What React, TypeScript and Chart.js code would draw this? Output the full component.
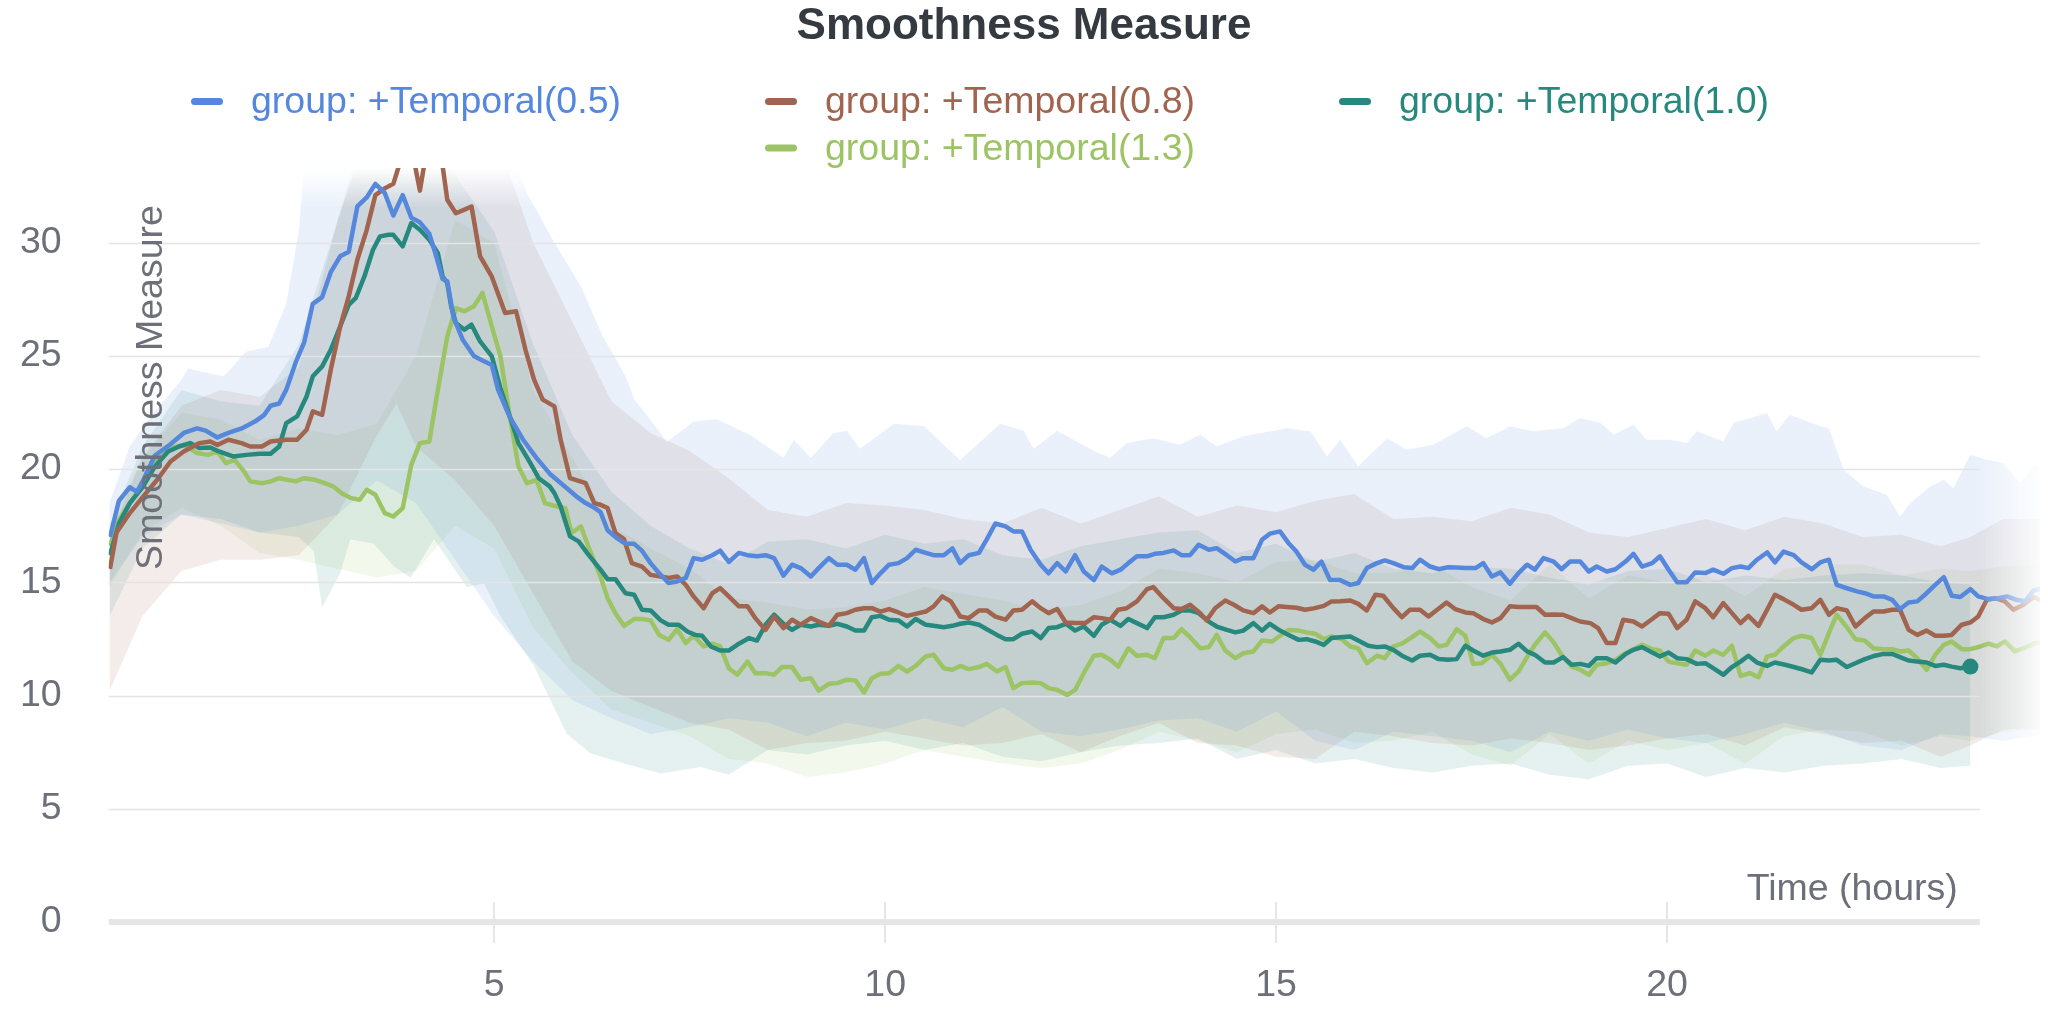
import React, { useEffect, useRef } from "react";
import { Chart, registerables } from "chart.js";

Chart.register(...registerables);

const TITLE = "Smoothness Measure";
const X_TITLE = "Time (hours)";
const Y_TITLE = "Smoothness Measure";
const SERIES_NAMES = ["group: +Temporal(0.5)", "group: +Temporal(0.8)", "group: +Temporal(1.0)", "group: +Temporal(1.3)"];
const SERIES_COLORS = ["#5588dd", "#a0644f", "#27897e", "#9cc464"];
const SERIES_RGB = ["85,136,221", "160,100,79", "39,137,126", "156,196,100"];
const X_MIN = 0.07;
const X_MAX = 24.77;
const AXIS_END = 24;
const Y_MAX = 33.3;
const X_TICK_STEP = 5;
const Y_TICK_STEP = 5;

type P = [number, number];

const BLUE_MEAN: P[] = [[0.086,17.0],[0.2,18.6],[0.34,19.2],[0.43,19.0],[0.51,19.5],[0.66,20.6],[0.86,21.1],[1.03,21.6],[1.2,21.8],[1.31,21.7],[1.46,21.4],[1.6,21.6],[1.77,21.8],[1.94,22.1],[2.06,22.4],[2.14,22.8],[2.25,22.9],[2.34,23.5],[2.46,24.7],[2.57,25.6],[2.68,27.3],[2.8,27.6],[2.91,28.7],[3.03,29.4],[3.14,29.6],[3.25,31.6],[3.37,32.0],[3.48,32.6],[3.6,32.2],[3.71,31.2],[3.83,32.1],[3.94,31.1],[4.05,30.9],[4.17,30.4],[4.25,29.5],[4.34,28.4],[4.4,28.3],[4.48,26.7],[4.6,25.7],[4.74,25.0],[4.85,24.8],[4.97,24.6],[5.05,23.5],[5.2,22.3],[5.37,21.3],[5.54,20.5],[5.71,19.8],[5.88,19.3],[6.05,18.8],[6.17,18.5],[6.28,18.3],[6.36,18.1],[6.45,17.3],[6.57,16.95],[6.68,16.7],[6.79,16.7],[6.89,16.4],[7.0,15.85],[7.11,15.4],[7.23,14.97],[7.34,15.04],[7.45,15.2],[7.55,16.07],[7.66,16.0],[7.79,16.2],[7.89,16.4],[8.0,15.9],[8.13,16.3],[8.24,16.2],[8.36,16.15],[8.47,16.2],[8.58,16.07],[8.7,15.3],[8.81,15.78],[8.92,15.63],[9.05,15.26],[9.15,15.63],[9.28,16.07],[9.39,15.78],[9.51,15.78],[9.62,15.56],[9.73,16.07],[9.83,14.97],[9.94,15.4],[10.05,15.78],[10.17,15.85],[10.28,16.07],[10.39,16.44],[10.52,16.3],[10.62,16.2],[10.75,16.2],[10.86,16.5],[10.96,15.85],[11.07,16.2],[11.2,16.3],[11.3,16.9],[11.41,17.6],[11.54,17.47],[11.64,17.25],[11.75,17.25],[11.86,16.44],[11.99,15.78],[12.09,15.4],[12.2,15.85],[12.31,15.48],[12.43,16.2],[12.54,15.48],[12.67,15.1],[12.77,15.7],[12.9,15.4],[13.01,15.56],[13.11,15.85],[13.22,16.15],[13.35,16.15],[13.45,16.26],[13.56,16.3],[13.69,16.41],[13.79,16.2],[13.9,16.2],[14.01,16.66],[14.14,16.44],[14.24,16.51],[14.37,16.2],[14.48,15.92],[14.58,16.07],[14.71,16.07],[14.82,16.88],[14.92,17.15],[15.05,17.25],[15.16,16.73],[15.26,16.36],[15.37,15.78],[15.48,15.56],[15.58,15.92],[15.69,15.1],[15.82,15.1],[15.95,14.89],[16.05,14.97],[16.16,15.63],[16.29,15.85],[16.39,15.97],[16.5,15.85],[16.63,15.67],[16.74,15.63],[16.84,16.0],[16.97,15.7],[17.08,15.58],[17.2,15.67],[17.31,15.66],[17.42,15.63],[17.55,15.63],[17.65,15.85],[17.76,15.26],[17.87,15.44],[17.99,14.94],[18.1,15.41],[18.21,15.78],[18.31,15.56],[18.42,16.07],[18.55,15.92],[18.65,15.58],[18.76,15.92],[18.89,15.92],[19.0,15.48],[19.1,15.7],[19.23,15.48],[19.34,15.58],[19.47,15.92],[19.57,16.26],[19.68,15.7],[19.81,15.85],[19.91,16.15],[20.02,15.56],[20.13,15.0],[20.25,15.0],[20.36,15.44],[20.49,15.41],[20.59,15.56],[20.72,15.38],[20.83,15.63],[20.94,15.7],[21.04,15.63],[21.15,16.0],[21.28,16.32],[21.38,15.88],[21.49,16.36],[21.62,16.2],[21.72,15.88],[21.85,15.58],[21.96,15.88],[22.07,16.0],[22.17,14.89],[22.3,14.74],[22.43,14.6],[22.53,14.52],[22.64,14.38],[22.77,14.38],[22.88,14.23],[22.98,13.82],[23.09,14.11],[23.2,14.16],[23.32,14.52],[23.43,14.89],[23.54,15.23],[23.64,14.41],[23.75,14.35],[23.88,14.7],[23.98,14.38],[24.11,14.26],[24.24,14.3],[24.35,14.38],[24.47,14.23],[24.58,14.16],[24.69,14.64],[24.81,14.74]];

const BROWN_MEAN: P[] = [[0.086,15.6],[0.17,17.2],[0.34,18.06],[0.51,18.79],[0.69,19.53],[0.86,20.34],[1.03,20.78],[1.23,21.15],[1.37,21.22],[1.46,21.07],[1.6,21.3],[1.77,21.15],[1.88,21.0],[2.03,21.0],[2.14,21.22],[2.34,21.3],[2.48,21.3],[2.6,21.74],[2.68,22.55],[2.8,22.4],[2.91,24.39],[3.03,26.3],[3.14,27.63],[3.25,29.25],[3.37,30.57],[3.48,32.1],[3.6,32.4],[3.71,32.6],[3.8,33.6],[3.92,34.6],[4.05,32.3],[4.17,34.8],[4.28,34.2],[4.34,33.4],[4.4,31.9],[4.51,31.3],[4.62,31.46],[4.71,31.6],[4.82,29.4],[4.97,28.5],[5.14,26.9],[5.28,26.97],[5.4,25.27],[5.51,23.95],[5.62,23.07],[5.77,22.77],[5.85,21.3],[5.97,19.6],[6.17,19.38],[6.28,18.5],[6.36,18.43],[6.45,18.28],[6.55,17.18],[6.66,16.91],[6.76,15.85],[6.89,15.7],[7.0,15.33],[7.13,15.26],[7.23,15.19],[7.34,15.26],[7.45,14.89],[7.55,14.38],[7.68,13.86],[7.79,14.52],[7.89,14.75],[8.0,14.38],[8.13,13.94],[8.24,13.94],[8.34,13.42],[8.47,12.9],[8.58,13.49],[8.7,12.98],[8.81,13.35],[8.92,13.13],[9.05,13.42],[9.15,13.27],[9.28,13.08],[9.39,13.57],[9.51,13.64],[9.62,13.79],[9.73,13.86],[9.83,13.86],[9.94,13.71],[10.05,13.82],[10.17,13.67],[10.28,13.52],[10.39,13.61],[10.52,13.71],[10.62,13.94],[10.73,14.38],[10.84,14.16],[10.96,13.49],[11.07,13.42],[11.2,13.76],[11.3,13.76],[11.41,13.49],[11.54,13.35],[11.64,13.76],[11.75,13.79],[11.88,14.16],[11.99,13.86],[12.09,13.64],[12.2,13.82],[12.31,13.23],[12.43,13.2],[12.56,13.2],[12.67,13.46],[12.77,13.42],[12.88,13.35],[12.98,13.79],[13.09,13.86],[13.22,14.16],[13.35,14.7],[13.43,14.79],[13.56,14.3],[13.69,13.86],[13.79,13.82],[13.9,14.01],[14.03,13.64],[14.11,13.32],[14.22,13.86],[14.35,14.2],[14.46,14.01],[14.58,13.76],[14.71,13.64],[14.82,13.94],[14.92,13.67],[15.03,13.94],[15.14,13.91],[15.26,13.88],[15.37,13.79],[15.48,13.85],[15.61,13.96],[15.71,14.16],[15.82,14.17],[15.95,14.2],[16.05,14.05],[16.16,13.76],[16.27,14.45],[16.37,14.41],[16.5,13.86],[16.61,13.46],[16.71,13.79],[16.84,13.79],[16.95,13.49],[17.06,13.79],[17.18,14.11],[17.29,13.82],[17.42,13.67],[17.52,13.64],[17.65,13.38],[17.76,13.23],[17.87,13.42],[17.99,13.94],[18.1,13.91],[18.21,13.91],[18.33,13.91],[18.44,13.57],[18.55,13.58],[18.67,13.57],[18.78,13.42],[18.89,13.27],[19.02,13.2],[19.12,12.98],[19.23,12.32],[19.34,12.32],[19.44,13.35],[19.57,13.27],[19.68,13.05],[19.81,13.38],[19.91,13.64],[20.02,13.61],[20.13,12.98],[20.25,13.35],[20.36,14.16],[20.49,13.86],[20.59,13.46],[20.72,14.08],[20.83,13.64],[20.94,13.2],[21.04,13.52],[21.17,13.08],[21.28,13.79],[21.38,14.45],[21.49,14.26],[21.62,14.01],[21.72,13.79],[21.85,13.86],[21.96,14.23],[22.07,13.57],[22.17,13.86],[22.3,13.76],[22.41,13.05],[22.53,13.42],[22.64,13.71],[22.77,13.71],[22.88,13.79],[22.98,13.79],[23.09,12.9],[23.2,12.68],[23.32,12.87],[23.43,12.64],[23.54,12.64],[23.64,12.68],[23.77,13.13],[23.88,13.23],[23.98,13.49],[24.09,14.23],[24.2,14.3],[24.32,14.16],[24.43,13.79],[24.56,14.01],[24.69,14.35],[24.81,14.16]];

const TEAL_MEAN: P[] = [[0.086,16.2],[0.2,17.6],[0.34,18.5],[0.51,19.24],[0.66,20.12],[0.83,20.78],[0.97,21.0],[1.11,21.15],[1.23,20.93],[1.37,20.96],[1.48,20.78],[1.66,20.56],[1.83,20.63],[2.0,20.68],[2.14,20.68],[2.25,21.0],[2.34,22.03],[2.48,22.33],[2.6,23.21],[2.68,24.1],[2.8,24.54],[2.91,25.27],[3.03,26.3],[3.14,27.26],[3.23,27.56],[3.34,28.51],[3.45,29.69],[3.54,30.28],[3.65,30.35],[3.71,30.35],[3.83,29.84],[3.94,30.87],[4.05,30.57],[4.17,30.13],[4.28,29.54],[4.34,28.51],[4.4,28.22],[4.45,27.19],[4.51,26.45],[4.62,26.16],[4.71,26.38],[4.82,25.64],[4.97,24.98],[5.08,23.58],[5.2,22.33],[5.31,21.15],[5.45,20.34],[5.57,19.6],[5.71,19.24],[5.77,18.94],[5.85,18.35],[5.97,17.03],[6.08,16.81],[6.19,16.29],[6.31,15.77],[6.36,15.56],[6.45,15.14],[6.55,15.14],[6.68,14.52],[6.79,14.45],[6.89,13.79],[7.0,13.76],[7.13,13.32],[7.23,13.13],[7.36,13.13],[7.47,12.83],[7.57,12.68],[7.66,12.64],[7.77,12.17],[7.89,11.99],[8.0,11.99],[8.13,12.29],[8.26,12.54],[8.36,12.43],[8.47,13.13],[8.58,13.57],[8.7,13.17],[8.81,12.9],[8.92,13.13],[9.05,13.05],[9.15,13.13],[9.28,13.08],[9.39,13.17],[9.51,13.05],[9.62,12.87],[9.73,12.87],[9.83,13.46],[9.94,13.52],[10.05,13.35],[10.17,13.32],[10.28,13.05],[10.39,13.38],[10.52,13.13],[10.62,13.08],[10.75,13.02],[10.86,13.08],[10.96,13.17],[11.07,13.23],[11.2,13.13],[11.3,12.93],[11.43,12.68],[11.54,12.49],[11.64,12.49],[11.75,12.73],[11.88,12.83],[11.99,12.54],[12.09,12.98],[12.2,13.02],[12.31,13.17],[12.43,12.87],[12.54,13.05],[12.67,12.64],[12.77,13.13],[12.88,13.35],[13.01,13.08],[13.11,13.38],[13.22,13.2],[13.35,12.98],[13.45,13.46],[13.56,13.46],[13.69,13.57],[13.79,13.76],[13.9,13.76],[14.01,13.64],[14.14,13.27],[14.24,13.05],[14.37,12.9],[14.48,12.79],[14.58,12.87],[14.71,13.2],[14.82,12.87],[14.92,13.17],[15.05,12.87],[15.16,12.68],[15.29,12.46],[15.39,12.49],[15.5,12.39],[15.61,12.24],[15.71,12.54],[15.82,12.58],[15.95,12.61],[16.05,12.43],[16.18,12.2],[16.29,12.14],[16.39,12.17],[16.5,12.02],[16.61,11.76],[16.74,11.55],[16.84,11.76],[16.97,11.8],[17.08,11.61],[17.2,11.58],[17.31,11.61],[17.42,12.2],[17.52,11.99],[17.65,11.76],[17.76,11.9],[17.87,11.95],[17.99,12.02],[18.1,12.29],[18.21,11.95],[18.31,11.8],[18.44,11.46],[18.55,11.46],[18.67,11.7],[18.78,11.36],[18.89,11.4],[19.0,11.31],[19.1,11.65],[19.23,11.65],[19.34,11.46],[19.47,11.84],[19.57,12.02],[19.68,12.14],[19.81,11.9],[19.91,11.73],[20.02,11.9],[20.13,11.65],[20.25,11.61],[20.38,11.4],[20.49,11.43],[20.59,11.21],[20.72,10.92],[20.83,11.26],[20.94,11.5],[21.04,11.76],[21.15,11.46],[21.28,11.31],[21.38,11.46],[21.51,11.36],[21.62,11.26],[21.75,11.14],[21.85,11.02],[21.96,11.58],[22.07,11.55],[22.17,11.58],[22.3,11.26],[22.43,11.46],[22.53,11.61],[22.66,11.76],[22.77,11.84],[22.88,11.84],[22.98,11.7],[23.09,11.55],[23.2,11.5],[23.32,11.46],[23.43,11.31],[23.54,11.36],[23.64,11.28],[23.75,11.21],[23.88,11.28]];

const GREEN_MEAN: P[] = [[0.086,16.6],[0.2,17.76],[0.34,18.5],[0.51,19.31],[0.66,20.27],[0.86,20.93],[1.03,21.07],[1.2,20.71],[1.34,20.63],[1.46,20.78],[1.57,20.27],[1.68,20.41],[1.8,19.9],[1.88,19.46],[2.03,19.38],[2.14,19.46],[2.25,19.6],[2.46,19.46],[2.57,19.6],[2.71,19.53],[2.83,19.38],[2.94,19.24],[3.05,18.94],[3.17,18.72],[3.28,18.65],[3.37,19.09],[3.48,18.87],[3.6,18.06],[3.71,17.91],[3.83,18.28],[3.94,20.19],[4.05,21.15],[4.17,21.22],[4.28,23.51],[4.4,25.86],[4.51,27.11],[4.62,26.97],[4.74,27.19],[4.85,27.78],[4.97,26.3],[5.08,24.98],[5.2,22.33],[5.31,20.12],[5.42,19.38],[5.54,19.53],[5.65,18.5],[5.8,18.35],[5.91,18.28],[5.99,17.18],[6.11,17.47],[6.22,16.44],[6.36,15.26],[6.45,14.3],[6.55,13.64],[6.66,13.08],[6.79,13.38],[6.89,13.38],[7.0,13.32],[7.11,12.68],[7.23,12.46],[7.34,12.93],[7.45,12.32],[7.55,12.64],[7.68,12.17],[7.79,12.29],[7.89,12.17],[8.0,11.21],[8.11,10.92],[8.24,11.5],[8.34,10.99],[8.47,10.99],[8.58,10.92],[8.68,11.26],[8.81,11.26],[8.92,10.7],[9.05,10.77],[9.15,10.22],[9.28,10.52],[9.39,10.55],[9.51,10.7],[9.62,10.67],[9.73,10.14],[9.83,10.77],[9.94,10.96],[10.05,10.99],[10.17,11.31],[10.28,11.06],[10.39,11.31],[10.52,11.73],[10.62,11.8],[10.75,11.21],[10.86,11.14],[10.96,11.31],[11.07,11.17],[11.2,11.26],[11.3,11.4],[11.43,11.06],[11.54,11.26],[11.64,10.33],[11.75,10.55],[11.88,10.58],[11.99,10.55],[12.09,10.33],[12.2,10.25],[12.33,10.03],[12.43,10.25],[12.54,10.99],[12.67,11.76],[12.77,11.8],[12.88,11.58],[12.98,11.28],[13.11,12.09],[13.22,11.76],[13.35,11.8],[13.45,11.65],[13.56,12.54],[13.69,12.54],[13.79,12.93],[13.9,12.58],[14.03,12.09],[14.14,12.14],[14.24,12.68],[14.35,11.99],[14.48,11.65],[14.58,11.87],[14.71,11.95],[14.82,12.43],[14.95,12.39],[15.05,12.64],[15.16,12.9],[15.29,12.87],[15.39,12.79],[15.5,12.73],[15.61,12.49],[15.71,12.61],[15.84,12.49],[15.95,12.17],[16.05,12.09],[16.16,11.43],[16.29,11.76],[16.39,11.65],[16.5,12.17],[16.61,12.29],[16.74,12.58],[16.84,12.83],[16.97,12.54],[17.08,12.17],[17.18,12.24],[17.31,12.93],[17.42,12.64],[17.52,11.4],[17.63,11.43],[17.76,11.8],[17.87,11.4],[17.99,10.7],[18.1,11.06],[18.21,11.7],[18.31,12.24],[18.44,12.79],[18.55,12.35],[18.65,11.8],[18.78,11.28],[18.89,11.14],[19.0,10.92],[19.1,11.36],[19.23,11.43],[19.34,11.58],[19.47,11.87],[19.57,12.05],[19.68,12.24],[19.81,12.05],[19.91,11.99],[20.02,11.5],[20.13,11.43],[20.25,11.36],[20.36,11.99],[20.49,11.76],[20.59,11.99],[20.72,11.8],[20.83,12.2],[20.94,10.87],[21.06,10.99],[21.17,10.81],[21.28,11.73],[21.38,11.8],[21.49,12.17],[21.62,12.54],[21.72,12.64],[21.85,12.54],[21.96,11.8],[22.07,12.76],[22.17,13.57],[22.3,13.02],[22.41,12.49],[22.53,12.43],[22.64,12.09],[22.77,12.05],[22.88,12.05],[22.98,11.95],[23.09,11.99],[23.2,11.65],[23.32,11.14],[23.43,11.8],[23.54,12.24],[23.64,12.39],[23.77,12.05],[23.88,12.05],[23.98,12.14],[24.11,12.29],[24.22,12.17],[24.32,12.39],[24.45,11.95],[24.56,12.09],[24.69,12.29],[24.81,12.39]];

const BLUE_UPPER: P[] = [[0.08,18.5],[0.34,21.0],[0.6,22.3],[0.97,23.8],[1.09,24.46],[1.26,24.3],[1.54,24.1],[1.83,25.2],[2.11,25.4],[2.34,27.3],[2.5,30.5],[2.6,34.5],[3,36],[3.5,38],[4,39],[4.5,38],[5,36],[5.42,32.2],[5.77,30.0],[6.11,28.07],[6.39,25.86],[6.68,24.1],[6.79,23.1],[6.97,22.3],[7.21,21.2],[7.55,22.1],[7.85,22.2],[8.28,21.5],[8.7,20.5],[8.83,21.3],[9.05,20.5],[9.34,21.6],[9.51,21.7],[9.68,20.9],[10.11,22.0],[10.5,21.9],[10.71,21.2],[10.96,20.4],[11.47,22.0],[11.77,21.7],[11.9,20.9],[12.2,21.7],[12.67,20.8],[12.88,20.5],[13.09,21.15],[13.43,21.37],[13.77,21.08],[14.03,21.52],[14.24,21.0],[14.58,21.45],[15.14,21.81],[15.44,21.67],[15.65,20.56],[15.82,21.3],[16.05,20.12],[16.42,21.37],[16.67,20.86],[17.01,21.08],[17.44,21.89],[17.69,21.37],[17.99,21.89],[18.29,21.67],[18.67,21.81],[18.89,22.26],[19.15,22.04],[19.32,21.52],[19.57,21.96],[19.74,21.3],[20.04,21.3],[20.25,21.15],[20.38,21.67],[20.72,21.23],[20.85,22.04],[21.28,22.48],[21.4,21.67],[21.57,22.4],[21.96,21.89],[22.07,21.81],[22.26,19.97],[22.51,19.24],[22.81,18.87],[22.98,17.91],[23.11,18.5],[23.37,19.24],[23.54,19.53],[23.66,19.16],[23.88,20.64],[24.09,20.42],[24.3,20.27],[24.52,19.38],[24.69,20.12],[24.86,19.97]];
const BLUE_LOWER: P[] = [[0.08,15.0],[0.5,17.0],[1,18.0],[1.5,17.6],[2,17.2],[2.5,17.5],[3,18.0],[3.5,19.5],[4,18.5],[4.5,16.0],[5,13.5],[5.5,11.5],[6,9.8],[6.5,9.0],[7,8.3],[7.5,8.6],[8,9.0],[8.5,8.8],[9,8.2],[9.5,8.8],[10,8.5],[10.5,9.0],[11,8.6],[11.5,9.5],[12,8.4],[12.5,8.2],[13,8.5],[13.5,8.9],[14,9.0],[14.5,8.4],[15,9.3],[15.5,8.0],[16,7.6],[16.5,8.4],[17,8.2],[17.5,8.0],[18,7.5],[18.5,8.4],[19,8.0],[19.5,8.5],[20,8.1],[20.5,7.9],[21,8.3],[21.5,8.8],[22,8.4],[22.5,7.8],[23,7.6],[23.5,8.3],[23.88,8.2],[24.3,8.0],[24.86,8.3]];
const BROWN_UPPER: P[] = [[0.08,17.0],[0.5,20.5],[1,22.8],[1.5,23.5],[2,23.2],[2.5,24.5],[3,31],[3.5,37],[4,40],[4.5,38],[5,35],[5.5,30],[6,26.5],[6.5,23.0],[7,21.6],[7.5,20.8],[8,19.6],[8.5,18.2],[9,17.9],[9.5,18.5],[10,18.4],[10.5,18.2],[11,17.8],[11.5,17.6],[12,18.3],[12.5,17.6],[13,18.2],[13.5,18.8],[14,17.9],[14.5,18.4],[15,18.1],[15.5,18.6],[16,18.9],[16.5,17.8],[17,17.9],[17.5,17.7],[18,18.3],[18.5,18.0],[19,17.2],[19.5,17.0],[20,17.4],[20.5,17.8],[21,17.3],[21.5,17.9],[22,17.6],[22.5,17.0],[23,17.1],[23.5,16.6],[23.88,17.0],[24.3,17.8],[24.86,17.8]];
const BROWN_LOWER: P[] = [[0.08,10.2],[0.5,13.5],[1,15.5],[1.5,16.0],[2,16.0],[2.5,16.2],[3,18.0],[3.5,21.5],[3.75,22.9],[4,21.0],[4.5,19.5],[5,17.5],[5.5,14.5],[6,11.5],[6.5,10.2],[7,9.5],[7.5,8.8],[8,8.5],[8.5,7.6],[9,7.9],[9.5,8.0],[10,8.4],[10.5,8.1],[11,7.8],[11.5,7.9],[12,8.3],[12.5,7.5],[13,8.2],[13.5,8.8],[14,7.9],[14.5,7.8],[15,7.3],[15.5,7.2],[16,8.4],[16.5,8.2],[17,7.9],[17.5,7.8],[18,8.1],[18.5,7.9],[19,7.6],[19.5,7.8],[20,8.1],[20.5,8.3],[21,7.8],[21.5,8.6],[22,8.3],[22.5,7.9],[23,8.0],[23.5,7.3],[23.88,7.8],[24.3,8.5],[24.86,8.6]];
const TEAL_UPPER: P[] = [[0.08,17.5],[0.5,21.0],[1,23.5],[1.5,23.0],[2,22.8],[2.5,25.5],[3,31],[3.5,36],[4,37],[4.5,33],[5,30.5],[5.5,25.5],[6,21.5],[6.5,19.0],[7,17.5],[7.5,16.5],[8,15.8],[8.5,16.8],[9,16.9],[9.5,16.5],[10,17.1],[10.5,16.7],[11,16.9],[11.5,16.2],[12,16.0],[12.5,16.6],[13,16.9],[13.5,17.2],[14,17.3],[14.5,16.3],[15,16.7],[15.5,15.9],[16,16.3],[16.5,15.6],[17,15.4],[17.5,15.7],[18,15.6],[18.5,15.2],[19,14.9],[19.5,15.5],[20,15.6],[20.5,15.0],[21,15.3],[21.5,15.1],[22,15.3],[22.5,15.4],[23,15.3],[23.5,15.0],[23.88,14.9]];
const TEAL_LOWER: P[] = [[0.08,13.5],[0.5,16.5],[1,18.0],[1.5,17.8],[2,17.2],[2.5,17.0],[2.69,16.4],[2.8,13.9],[3.03,15.4],[3.16,16.9],[3.46,16.7],[3.72,15.7],[3.93,15.2],[4.23,16.9],[4.65,14.8],[4.87,14.95],[5.08,13.5],[5.51,11.3],[5.93,8.3],[6.23,7.45],[6.66,7.0],[7.13,6.56],[7.64,6.85],[8,6.5],[8.5,7.6],[9,7.4],[9.5,7.8],[10,8.0],[10.5,7.6],[11,7.9],[11.5,7.3],[12,7.1],[12.5,7.5],[13,7.8],[13.5,7.9],[14,8.1],[14.5,7.2],[15,7.6],[15.5,7.0],[16,7.2],[16.5,6.8],[17,6.6],[17.5,6.9],[18,7.0],[18.5,6.5],[19,6.3],[19.5,6.9],[20,7.0],[20.5,6.4],[21,6.8],[21.5,6.6],[22,6.9],[22.5,7.0],[23,7.2],[23.5,6.8],[23.88,6.9]];
const GREEN_UPPER: P[] = [[0.08,17.5],[0.5,20.5],[1,22.5],[1.5,22.2],[2,21.3],[2.5,21.8],[3,21.5],[3.5,22.0],[4,25.0],[4.5,31.0],[5,30.0],[5.5,23.5],[6,20.5],[6.5,17.5],[7,16.5],[7.5,15.6],[8,14.3],[8.5,14.1],[9,13.8],[9.5,13.9],[10,14.2],[10.5,14.8],[11,14.5],[11.5,14.2],[12,13.8],[12.5,14.0],[13,14.6],[13.5,15.6],[14,15.4],[14.5,15.0],[15,15.9],[15.5,16.0],[16,15.4],[16.5,15.4],[17,15.8],[17.5,14.8],[18,14.2],[18.5,15.8],[19,14.3],[19.5,15.3],[20,15.0],[20.5,15.3],[21,14.4],[21.5,15.6],[22,15.8],[22.5,15.8],[23,15.3],[23.5,15.6],[23.88,15.5],[24.3,15.7],[24.86,15.8]];
const GREEN_LOWER: P[] = [[0.08,14.8],[0.5,17.2],[1,18.3],[1.5,17.5],[2,16.3],[2.5,16.0],[3,15.6],[3.5,15.2],[4,15.5],[4.5,17.5],[5,16.5],[5.5,13.0],[6,11.0],[6.5,9.4],[7,8.8],[7.5,8.2],[8,7.2],[8.5,7.0],[9,6.4],[9.5,6.6],[10,7.0],[10.5,7.6],[11,7.3],[11.5,7.0],[12,6.8],[12.5,7.0],[13,7.6],[13.5,8.4],[14,8.0],[14.5,7.5],[15,8.3],[15.5,8.5],[16,7.9],[16.5,8.0],[17,8.4],[17.5,7.4],[18,6.9],[18.5,8.3],[19,7.0],[19.5,8.0],[20,7.6],[20.5,7.9],[21,7.0],[21.5,8.2],[22,8.5],[22.5,8.4],[23,7.8],[23.5,8.2],[23.88,8.0],[24.3,8.4],[24.86,8.5]];

const MEANS = [BLUE_MEAN, BROWN_MEAN, TEAL_MEAN, GREEN_MEAN];
const UPPERS = [BLUE_UPPER, BROWN_UPPER, TEAL_UPPER, GREEN_UPPER];
const LOWERS = [BLUE_LOWER, BROWN_LOWER, TEAL_LOWER, GREEN_LOWER];

const FONT = "'Liberation Sans', Arial, Helvetica, sans-serif";
const TEXT_SIZE = 37.5;
const TICK_COLOR = "#6e7079";
const GRID_COLOR = "#e4e4e4";
const AXIS_COLOR = "#e6e6e6";
const BAND_ALPHA = 0.12;

const pts = (a: P[]) => a.map(([x, y]) => ({ x, y }));

const decorPlugin = {
  id: "decor",
  beforeDatasetsDraw(chart: any) {
    const { ctx, chartArea, scales } = chart;
    const xs = scales.x, ys = scales.y;
    const xEnd = xs.getPixelForValue(AXIS_END);
    ctx.save();
    ctx.strokeStyle = GRID_COLOR;
    ctx.lineWidth = 1.5;
    ys.ticks.forEach((t: any) => {
      if (t.value === 0) return;
      const py = Math.round(ys.getPixelForValue(t.value)) + 0.5;
      ctx.beginPath();
      ctx.moveTo(chartArea.left, py);
      ctx.lineTo(xEnd, py);
      ctx.stroke();
    });
    ctx.restore();
  },
  afterDatasetsDraw(chart: any) {
    const { ctx, chartArea, scales } = chart;
    const xEnd = scales.x.getPixelForValue(AXIS_END);
    ctx.save();
    ctx.fillStyle = TICK_COLOR;
    ctx.font = `${TEXT_SIZE}px ${FONT}`;
    ctx.textAlign = "center";
    ctx.textBaseline = "middle";
    ctx.translate(chartArea.left + 42.5, chartArea.top + 219.5);
    ctx.rotate(-Math.PI / 2);
    ctx.fillText(Y_TITLE, 0, 0);
    ctx.restore();
    ctx.save();
    const g = ctx.createLinearGradient(xEnd, 0, chart.width, 0);
    g.addColorStop(0, "rgba(255,255,255,0)");
    g.addColorStop(1, "rgba(255,255,255,1)");
    ctx.fillStyle = g;
    ctx.fillRect(xEnd, chartArea.top - 2, chart.width - xEnd, chartArea.bottom - chartArea.top + 4);
    ctx.restore();
  },
  afterDraw(chart: any) {
    const { ctx, chartArea, scales } = chart;
    const xs = scales.x, ys = scales.y;
    const xEnd = xs.getPixelForValue(AXIS_END);
    const y0 = ys.getPixelForValue(0);
    ctx.save();
    ctx.strokeStyle = AXIS_COLOR;
    ctx.lineWidth = 2;
    xs.ticks.forEach((t: any) => {
      const px = Math.round(xs.getPixelForValue(t.value));
      ctx.beginPath();
      ctx.moveTo(px, y0 - 20);
      ctx.lineTo(px, y0 + 21);
      ctx.stroke();
    });
    ctx.lineWidth = 6;
    ctx.beginPath();
    ctx.moveTo(chartArea.left, y0);
    ctx.lineTo(xEnd, y0);
    ctx.stroke();
    ctx.fillStyle = TICK_COLOR;
    ctx.font = `${TEXT_SIZE}px ${FONT}`;
    ctx.textAlign = "right";
    ctx.textBaseline = "middle";
    ctx.fillText(X_TITLE, xEnd - 22, y0 - 32);
    // legend
    const cx = 980;
    const rowY = [103, 149.5];
    const colW = 574;
    const perRow = 3;
    const markerW = 32;
    const textGap = 60;
    ctx.textAlign = "left";
    const widths = SERIES_NAMES.map((n) => textGap + ctx.measureText(n).width);
    for (let r = 0; r * perRow < SERIES_NAMES.length; r++) {
      const idx = SERIES_NAMES.map((_, i) => i).slice(r * perRow, r * perRow + perRow);
      const n = idx.length;
      const itemW = widths[idx[0]];
      const rowWidth = n * itemW + (n - 1) * (colW - itemW);
      let x = cx - rowWidth / 2;
      idx.forEach((i) => {
        const y = rowY[r];
        ctx.strokeStyle = SERIES_COLORS[i];
        ctx.lineWidth = 7;
        ctx.lineCap = "round";
        ctx.beginPath();
        ctx.moveTo(x + 3.5, y - 1.5);
        ctx.lineTo(x + markerW - 3.5, y - 1.5);
        ctx.stroke();
        ctx.fillStyle = SERIES_COLORS[i];
        ctx.fillText(SERIES_NAMES[i], x + textGap, y);
        x += colW;
      });
    }
    ctx.restore();
  },
};

export default function App() {
  const ref = useRef<HTMLCanvasElement | null>(null);
  useEffect(() => {
    if (!ref.current) return;
    const datasets: any[] = [];
    SERIES_RGB.forEach((rgb, i) => {
      datasets.push({
        label: SERIES_NAMES[i] + " upper",
        data: pts(UPPERS[i]),
        borderWidth: 0,
        pointRadius: 0,
        fill: false,
      });
      datasets.push({
        label: SERIES_NAMES[i] + " lower",
        data: pts(LOWERS[i]),
        borderWidth: 0,
        pointRadius: 0,
        fill: "-1",
        backgroundColor: (c: any) => {
          const ca = c.chart.chartArea;
          if (!ca) return `rgba(${rgb},${BAND_ALPHA})`;
          const g = c.chart.ctx.createLinearGradient(0, ca.top, 0, ca.top + 40);
          g.addColorStop(0, `rgba(${rgb},0)`);
          g.addColorStop(1, `rgba(${rgb},${BAND_ALPHA})`);
          return g;
        },
      });
    });
    MEANS.forEach((m, i) => {
      const last = m.length - 1;
      datasets.push({
        label: SERIES_NAMES[i],
        data: pts(m),
        borderColor: SERIES_COLORS[i],
        backgroundColor: SERIES_COLORS[i],
        borderWidth: 4.5,
        borderJoinStyle: "round",
        fill: false,
        pointRadius: i === 2 ? (c: any) => (c.dataIndex === last ? 8 : 0) : 0,
        pointBorderWidth: 0,
        pointBackgroundColor: SERIES_COLORS[i],
      });
    });
    const tickFont = { size: TEXT_SIZE, family: FONT };
    const chart = new Chart(ref.current, {
      type: "line",
      data: { datasets },
      options: {
        animation: false,
        responsive: false,
        devicePixelRatio: 1,
        events: [],
        layout: { padding: { left: 0, right: 0, top: 0, bottom: 6 } },
        elements: { line: { tension: 0 }, point: { radius: 0 } },
        plugins: {
          legend: { display: false },
          tooltip: { enabled: false },
          filler: { drawTime: "beforeDatasetsDraw", propagate: false },
          title: {
            display: true,
            text: TITLE,
            color: "#343a40",
            font: { size: 44, weight: "bold", family: FONT },
            padding: { top: 0, bottom: 115.2 },
          },
        },
        scales: {
          x: {
            type: "linear",
            min: X_MIN,
            max: X_MAX,
            grid: { display: true, color: "rgba(0,0,0,0)", drawTicks: true, tickLength: 31 },
            border: { display: false },
            ticks: { stepSize: X_TICK_STEP, includeBounds: false, padding: 10, color: TICK_COLOR, font: tickFont, maxRotation: 0, autoSkip: false },
          },
          y: {
            type: "linear",
            min: 0,
            max: Y_MAX,
            grid: { display: true, color: "rgba(0,0,0,0)", drawTicks: true, tickLength: 27 },
            border: { display: false },
            ticks: { stepSize: Y_TICK_STEP, includeBounds: false, padding: 20, color: TICK_COLOR, font: tickFont },
          },
        },
      } as any,
      plugins: [decorPlugin],
    });
    return () => chart.destroy();
  }, []);
  return (
    <div style={{ position: "fixed", left: 0, top: 0, width: 2048, height: 1024, background: "#ffffff" }}>
      <canvas ref={ref} width={2048} height={1024} style={{ display: "block", width: 2048, height: 1024 }} />
    </div>
  );
}
